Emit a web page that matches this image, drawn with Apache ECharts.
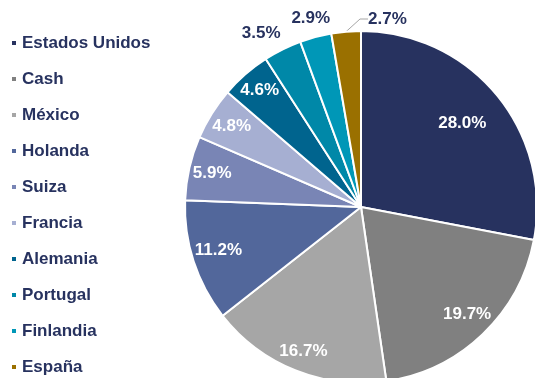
<!DOCTYPE html>
<html>
<head>
<meta charset="utf-8">
<script src="https://cdn.jsdelivr.net/npm/echarts@6/dist/echarts.min.js"></script>
<style>
  html, body { margin: 0; padding: 0; background: #ffffff; }
  #chart { width: 535px; height: 378px; }
</style>
</head>
<body>
<div id="chart"></div>
<script>
// Portfolio breakdown by country (% of total)
const countries = ['Estados Unidos', 'Cash', 'México', 'Holanda', 'Suiza', 'Francia', 'Alemania', 'Portugal', 'Finlandia', 'España'];
const shares = [28.0, 19.7, 16.7, 11.2, 5.9, 4.8, 4.6, 3.5, 2.9, 2.7];
const sliceColors = ['#27325F', '#808080', '#A6A6A6', '#52679B', '#7985B5', '#A6AFD2', '#00648E', '#0088A8', '#0097B7', '#9A7000'];

const NAVY = '#27325F';
const FONT = '"Liberation Sans", Arial, sans-serif';
const CX = 361, CY = 207, R = 176;

// value label placement: fraction of the radius, plus a small angular nudge (degrees)
const labelRadius = [0.73, 0.84, 0.865, 0.83, 0.85, 0.85, 0.86, 1.12, 1.09, null];
const labelTurn = [0, -1, 0, 1, 0, 0, 0, -3.5, 0, 0];

const total = shares.reduce((a, b) => a + b, 0);
let cum = 0;
const pieData = countries.map((name, i) => {
  const v = shares[i];
  const mid0 = 2 * Math.PI * (cum + v / 2) / total;
  const mid = mid0 + labelTurn[i] * Math.PI / 180;
  cum += v;
  const item = { name: name, value: v, itemStyle: { color: sliceColors[i] } };
  const f = labelRadius[i];
  if (f !== null) {
    // inside labels sit at half the radius; push them out along the slice's mid-angle
    const x = f * R * Math.sin(mid), y = -f * R * Math.cos(mid);
    const x0 = 0.5 * R * Math.sin(mid0), y0 = -0.5 * R * Math.cos(mid0);
    item.label = {
      position: 'inside',
      offset: [x - x0, y - y0],
      color: f > 1 ? NAVY : '#ffffff'
    };
    item.labelLine = { show: false };
  } else {
    item.label = { position: 'outside', color: NAVY };
    item.labelLine = { show: true, length: 6, length2: 8, lineStyle: { color: '#A6A6A6', width: 1 } };
  }
  return item;
});

const chart = echarts.init(document.getElementById('chart'), null, { renderer: 'canvas' });
chart.setOption({
  animation: false,
  backgroundColor: '#ffffff',
  legend: {
    orient: 'vertical',
    left: 10,
    top: 34,
    height: 370,
    padding: 0,
    icon: 'rect',
    itemWidth: 6,
    itemHeight: 6,
    itemGap: 18,
    selectedMode: false,
    data: countries,
    textStyle: {
      fontFamily: FONT,
      fontWeight: 'bold',
      fontSize: 17,
      color: NAVY,
      lineHeight: 18,
      padding: [0, 0, 0, 0]
    }
  },
  series: [{
    type: 'pie',
    center: [CX, CY],
    radius: [0, R],
    startAngle: 90,
    clockwise: true,
    avoidLabelOverlap: false,
    itemStyle: { borderColor: '#ffffff', borderWidth: 2 },
    label: {
      show: true,
      fontFamily: FONT,
      fontWeight: 'bold',
      fontSize: 17,
      formatter: p => p.value.toFixed(1) + '%'
    },
    labelLayout: function (params) {
      if (params.dataIndex === shares.length - 1) {
        return { x: CX + 7, y: CY - R - 12, align: 'left', verticalAlign: 'middle' };
      }
    },
    data: pieData
  }]
});
</script>
</body>
</html>
